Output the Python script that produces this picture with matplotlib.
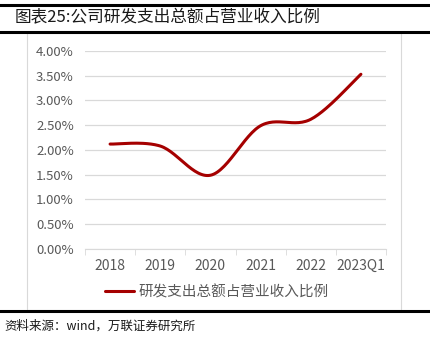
import numpy as np
import matplotlib.pyplot as plt
from matplotlib.lines import Line2D
from matplotlib.patches import Rectangle

plt.rcParams['font.family'] = ['Noto Sans CJK SC', 'DejaVu Sans']

years = ['2018', '2019', '2020', '2021', '2022', '2023Q1']
ratio = [0.0212, 0.0208, 0.0149, 0.0249, 0.0262, 0.0353]
yticks = [0, 0.005, 0.01, 0.015, 0.02, 0.025, 0.03, 0.035, 0.04]


def smooth(x, y, n=30):
    # excel-like smoothed line (catmull-rom)
    x = np.asarray(x, float)
    y = np.asarray(y, float)
    px = np.concatenate([[x[0]], x, [x[-1]]])
    py = np.concatenate([[y[0]], y, [y[-1]]])
    xs, ys = [], []
    t = np.linspace(0, 1, n)
    for i in range(1, len(px) - 2):
        p0, p1, p2, p3 = [np.array([px[j], py[j]]) for j in (i - 1, i, i + 1, i + 2)]
        c1 = p1 + (p2 - p0) / 6
        c2 = p2 - (p3 - p1) / 6
        b = ((1 - t) ** 3)[:, None] * p1 + (3 * (1 - t) ** 2 * t)[:, None] * c1 \
            + (3 * (1 - t) * t ** 2)[:, None] * c2 + (t ** 3)[:, None] * p2
        xs.extend(b[:, 0])
        ys.extend(b[:, 1])
    return np.array(xs), np.array(ys)


W, H = 430, 340
fig = plt.figure(figsize=(W / 100, H / 100), dpi=100)

# frame lines and box
fig.add_artist(Line2D([0, 1], [1 - 5 / H, 1 - 5 / H], color='black', lw=2.2))
fig.add_artist(Line2D([0, 1], [1 - 32 / H, 1 - 32 / H], color='black', lw=2.2))
fig.add_artist(Line2D([0, 1], [1 - 311 / H, 1 - 311 / H], color='black', lw=2.2))
fig.add_artist(Rectangle((27 / W, 1 - 310 / H), 374 / W, 277 / H, fill=False,
                         edgecolor='#d9d9d9', lw=0.8))

fig.text(15 / W, 1 - 18 / H, '图表25:公司研发支出总额占营业收入比例', fontsize=12,
         va='center', ha='left', color='#1a1a1a')
fig.text(4 / W, 1 - 326 / H, '资料来源：wind，万联证券研究所', fontsize=9,
         va='center', ha='left', color='#1a1a1a', style='italic')

ax = fig.add_axes([85 / W, 1 - 249 / H, 301 / W, 198 / H])
x = np.arange(len(years))
sx, sy = smooth(x, ratio)
ax.plot(sx, sy, color='#a50000', lw=2.2, solid_capstyle='round',
        label='研发支出总额占营业收入比例')

ax.set_xlim(-0.5, len(years) - 0.5)
ax.set_ylim(0, 0.04)
ax.set_yticks(yticks)
ax.set_yticklabels([f'{v * 100:.2f}%' for v in yticks], color='#595959', fontsize=9.5)
ax.set_xticks(x)
ax.set_xticklabels(years, color='#595959', fontsize=10)
ax.set_xticks(np.arange(-0.5, len(years)), minor=True)
ax.tick_params(axis='x', which='major', length=0, pad=7)
ax.tick_params(axis='x', which='minor', length=4, color='#d9d9d9', direction='out')
ax.tick_params(axis='y', length=0, pad=8)
ax.grid(axis='y', color='#d9d9d9', lw=0.9)
ax.set_axisbelow(True)
for s in ['top', 'right', 'left']:
    ax.spines[s].set_visible(False)
ax.spines['bottom'].set_color('#d9d9d9')

leg = fig.legend(loc='center', bbox_to_anchor=(0.505, 1 - 292 / H), frameon=False,
                 fontsize=10.5, handlelength=2.0, handletextpad=0.3)
for t in leg.get_texts():
    t.set_color('#595959')

fig.savefig('out.png', dpi=100)
